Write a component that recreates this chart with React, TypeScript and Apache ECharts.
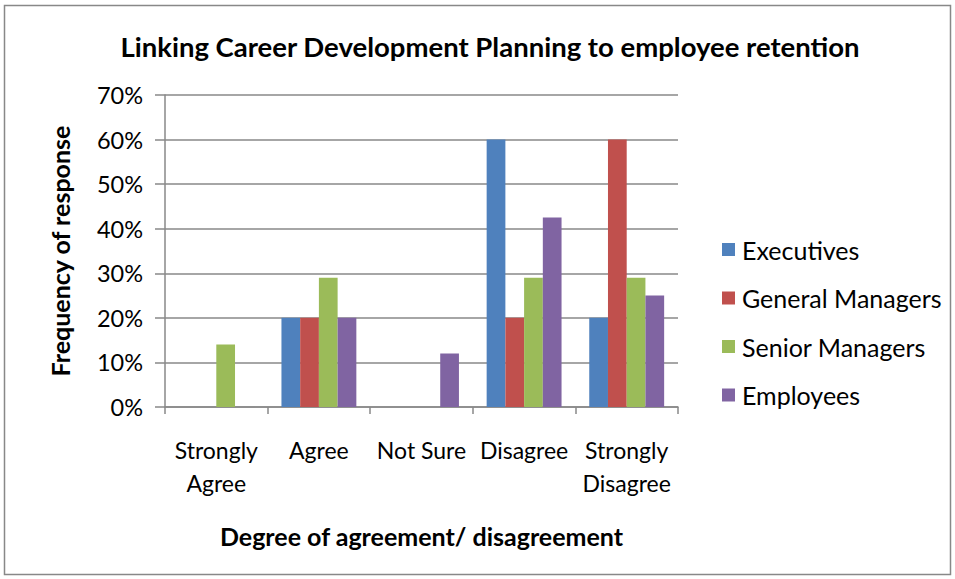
import React, { useEffect, useRef } from "react";
import * as echarts from "echarts";

const categories = ["Strongly\nAgree", "Agree", "Not Sure", "Disagree", "Strongly\nDisagree"];
const seriesNames = ["Executives", "General Managers", "Senior Managers", "Employees"];
const executives = [0, 20, 0, 60, 20];
const generalManagers = [0, 20, 0, 20, 60];
const seniorManagers = [14, 29, 0, 29, 29];
const employees = [0, 20, 12, 42.5, 25];
const colors = ["#4F81BD", "#C0504D", "#9BBB59", "#8064A2"];

const FONT = "Lato";

export default function App() {
  const ref = useRef<HTMLDivElement>(null);
  useEffect(() => {
    if (!ref.current) return;
    const chart = echarts.init(ref.current, undefined, { renderer: "svg" });
    const data = [executives, generalManagers, seniorManagers, employees];
    chart.setOption({
      animation: false,
      textStyle: { fontFamily: FONT },
      title: {
        text: "Linking Career Development Planning to employee retention",
        left: 485,
        textAlign: "center",
        top: 27,
        textStyle: { fontFamily: FONT, fontSize: 27.5, fontWeight: "bold", color: "#000" },
      },
      graphic: [
        {
          type: "rect",
          shape: { x: 4.5, y: 5.5, width: 946, height: 569 },
          style: { fill: "none", stroke: "#888", lineWidth: 1.5 },
          silent: true,
        },
      ],
      legend: {
        orient: "vertical",
        left: 717,
        top: 232,
        itemWidth: 13,
        itemHeight: 13,
        itemGap: 23.5,
        icon: "rect",
        textStyle: { fontFamily: FONT, fontSize: 25, color: "#000", padding: [0, 0, 0, 2] },
        data: seriesNames,
      },
      grid: { left: 165, right: 277, top: 95, bottom: 172, containLabel: false },
      xAxis: {
        type: "category",
        data: categories,
        name: "Degree of agreement/ disagreement",
        nameLocation: "middle",
        nameGap: 116,
        nameTextStyle: { fontFamily: FONT, fontSize: 25, fontWeight: "bold", color: "#000" },
        axisLine: { lineStyle: { color: "#888", width: 1.5 } },
        axisTick: { show: true, length: 7, lineStyle: { color: "#888", width: 1.5 } },
        axisLabel: {
          fontFamily: FONT,
          fontSize: 23,
          color: "#000",
          margin: 26,
          lineHeight: 33,
          interval: 0,
        },
      },
      yAxis: {
        type: "value",
        min: 0,
        max: 70,
        interval: 10,
        name: "Frequency of response",
        nameLocation: "middle",
        nameGap: 93,
        nameRotate: 90,
        nameTextStyle: { fontFamily: FONT, fontSize: 25, fontWeight: "bold", color: "#000" },
        axisLine: { show: true, lineStyle: { color: "#888", width: 1.5 } },
        axisTick: { show: true, length: 10, lineStyle: { color: "#888", width: 1.5 } },
        splitLine: { lineStyle: { color: "#888", width: 1.5 } },
        axisLabel: {
          fontFamily: FONT,
          fontSize: 23.5,
          color: "#000",
          margin: 22,
          formatter: (v: number) => v + "%",
        },
      },
      series: seriesNames.map((name, i) => ({
        name,
        type: "bar",
        data: data[i],
        barGap: "0%",
        barCategoryGap: "27%",
        itemStyle: { color: colors[i] },
      })),
    });
    return () => chart.dispose();
  }, []);
  return (
    <div
      ref={ref}
      style={{ position: "absolute", left: 0, top: 0, width: 955, height: 579, background: "#fff" }}
    />
  );
}
